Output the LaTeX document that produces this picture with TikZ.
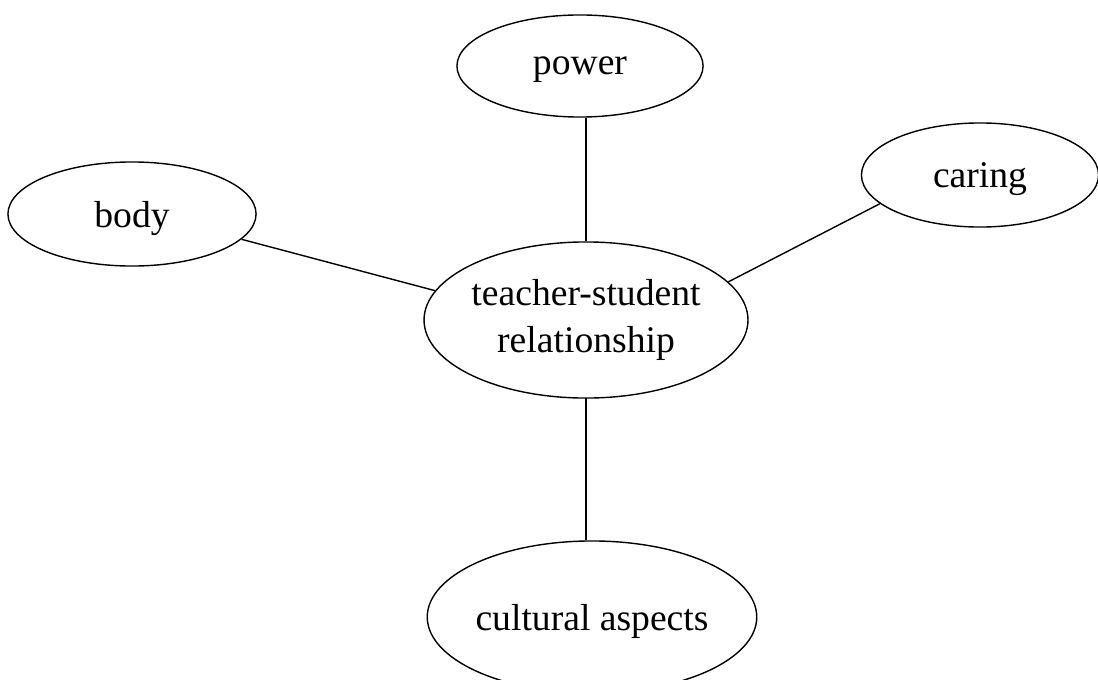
\documentclass[tikz,border=0pt]{standalone}
\usepackage{fontspec}
\setmainfont{Liberation Serif}
\usetikzlibrary{shapes.geometric}

\begin{document}
\begin{tikzpicture}[
  x=0.01cm, y=-0.01cm,
  bubble/.style={draw, ellipse, inner sep=0pt, align=center,
                 font=\fontsize{10.7}{13.4}\selectfont},
  word/.style={bubble, text depth=0pt},
  link/.style={line width=0.4pt},
]
\clip (0,0) rectangle (1098,679);

% Central idea
\node[bubble, minimum width=3.14cm, minimum height=1.56cm] (tsr) at (586,320)
  {teacher-student\\relationship};

% Surrounding themes
\node[word, minimum width=2.46cm, minimum height=1.02cm] (power) at (580,66) {power};
\node[word, minimum width=2.48cm, minimum height=1.04cm] (body) at (132,214) {body};
\node[word, minimum width=2.37cm, minimum height=1.04cm] (caring) at (980,175) {caring};
\node[word, minimum width=3.14cm, minimum height=1.52cm] (cult) at (592,617) {cultural aspects};

% Links
\draw[link] (tsr.north) -- (tsr.north |- power.south);
\draw[link] (tsr.169) -- (body.-13);
\draw[link] (tsr.15) -- (caring.196);
\draw[link] (tsr.south) -- (tsr.south |- cult.north);
\end{tikzpicture}
\end{document}
